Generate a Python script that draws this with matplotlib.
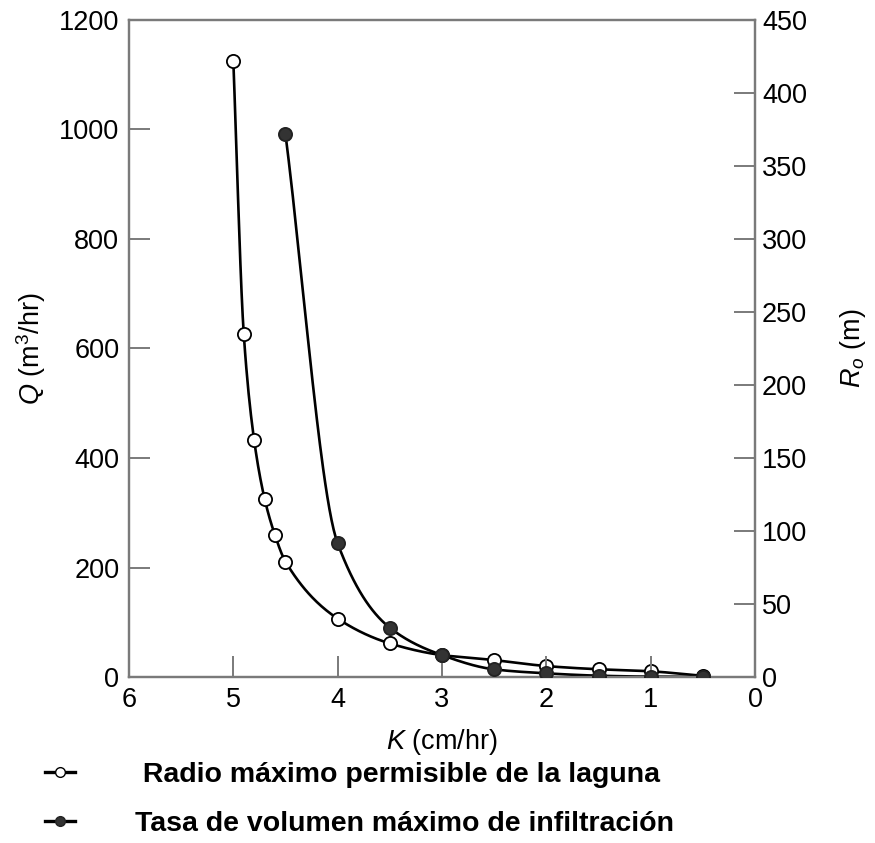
import matplotlib
matplotlib.use("Agg")
import matplotlib.pyplot as plt
import numpy as np
from matplotlib.lines import Line2D

plt.rcParams["font.family"] = ["Liberation Sans", "DejaVu Sans"]
plt.rcParams["mathtext.fontset"] = "custom"
plt.rcParams["mathtext.rm"] = "Liberation Sans"
plt.rcParams["mathtext.it"] = "Liberation Sans:italic"

# Maximum permissible pond radius R_o (m) vs hydraulic conductivity K (cm/hr)
k_radius = [5.0, 4.9, 4.8, 4.7, 4.6, 4.5, 4.0, 3.5, 3.0, 2.5, 2.0, 1.5, 1.0, 0.5]
radius_m = [422, 235, 162, 122, 97, 79, 40, 23, 15, 11.6, 7.5, 5.3, 3.9, 0.8]

# Maximum infiltration volume rate Q (m3/hr) vs K (cm/hr)
k_rate = [4.5, 4.0, 3.5, 3.0, 2.5, 2.0, 1.5, 1.0, 0.5]
rate_m3hr = [991, 244, 90, 40, 14, 6.7, 2.4, 0.6, 0.2]

q_ticks = [0, 200, 400, 600, 800, 1000, 1200]
r_ticks = [0, 50, 100, 150, 200, 250, 300, 350, 400, 450]
k_ticks = [6, 5, 4, 3, 2, 1, 0]

label_radius = " Radio máximo permisible de la laguna"
label_rate = "Tasa de volumen máximo de infiltración"

GRAY = "#7a7a7a"
TICK_FS = 19.5


def pchip_curve(x, y, n=400):
    """Monotone cubic (Fritsch-Carlson) curve through the points, for drawing."""
    x = np.asarray(x, float)
    y = np.asarray(y, float)
    order = np.argsort(x)
    x, y = x[order], y[order]
    h = np.diff(x)
    d = np.diff(y) / h
    m = np.zeros_like(y)
    for i in range(1, len(x) - 1):
        if d[i - 1] * d[i] > 0:
            w1 = 2 * h[i] + h[i - 1]
            w2 = h[i] + 2 * h[i - 1]
            m[i] = (w1 + w2) / (w1 / d[i - 1] + w2 / d[i])
    m[0] = d[0]
    m[-1] = d[-1]
    xs = np.linspace(x[0], x[-1], n)
    idx = np.clip(np.searchsorted(x, xs) - 1, 0, len(h) - 1)
    t = (xs - x[idx]) / h[idx]
    h00 = 2 * t**3 - 3 * t**2 + 1
    h10 = t**3 - 2 * t**2 + t
    h01 = -2 * t**3 + 3 * t**2
    h11 = t**3 - t**2
    ys = h00 * y[idx] + h10 * h[idx] * m[idx] + h01 * y[idx + 1] + h11 * h[idx] * m[idx + 1]
    return xs, ys


fig = plt.figure(figsize=(8.75, 8.43), dpi=100)
ax = fig.add_axes([0.1474, 0.1969, 0.7155, 0.7794])
ax2 = ax.twinx()

# keep the Q series (filled) drawn above the R_o series (open)
ax.set_zorder(ax2.get_zorder() + 1)
ax.patch.set_visible(False)

line_kw = dict(color="black", linewidth=1.9)
marker_kw = dict(linestyle="none", marker="o", markersize=9.5, markeredgewidth=1.3)

xs, ys = pchip_curve(k_radius, radius_m)
ax2.plot(xs, ys, **line_kw, zorder=2)
ax2.plot(k_radius, radius_m, markerfacecolor="white", markeredgecolor="black", zorder=3, **marker_kw)

xs, ys = pchip_curve(k_rate, rate_m3hr)
ax.plot(xs, ys, **line_kw, zorder=2)
ax.plot(k_rate, rate_m3hr, markerfacecolor="#333333", markeredgecolor="#222222", zorder=3, **marker_kw)

ax.set_xlim(6, 0)
ax.set_ylim(0, 1200)
ax2.set_ylim(0, 450)
ax.set_xticks(k_ticks)
ax.set_yticks(q_ticks)
ax2.set_yticks(r_ticks)

for a in (ax, ax2):
    for sp in a.spines.values():
        sp.set_color(GRAY)
        sp.set_linewidth(1.6)

ax.tick_params(axis="both", direction="in", length=15, width=1.4, color=GRAY,
               labelsize=TICK_FS, right=False)
ax.tick_params(axis="y", pad=7)
ax.tick_params(axis="x", pad=7)
ax2.tick_params(axis="y", direction="in", length=15, width=1.4, color=GRAY,
                labelsize=TICK_FS, pad=5)

ax.set_ylabel(r"$Q$ (m$^3$/hr)", fontsize=TICK_FS, labelpad=8)
ax2.set_ylabel(r"$R_o$ (m)", fontsize=TICK_FS, labelpad=22)
ax.set_xlabel(r"$K$ (cm/hr)", fontsize=TICK_FS, labelpad=10)

handles = [
    Line2D([], [], color="black", linewidth=2.4, marker="o", markersize=7,
           markerfacecolor="white", markeredgecolor="black"),
    Line2D([], [], color="black", linewidth=2.4, marker="o", markersize=7,
           markerfacecolor="#333333", markeredgecolor="#222222"),
]
fig.legend(handles, [label_radius, label_rate], loc="upper left",
           bbox_to_anchor=(0.022, 0.1265), frameon=False, handlelength=1.05,
           handletextpad=2.1, labelspacing=0.8,
           prop={"size": 20.5, "weight": "bold"})

fig.savefig("out.png", dpi=100)
